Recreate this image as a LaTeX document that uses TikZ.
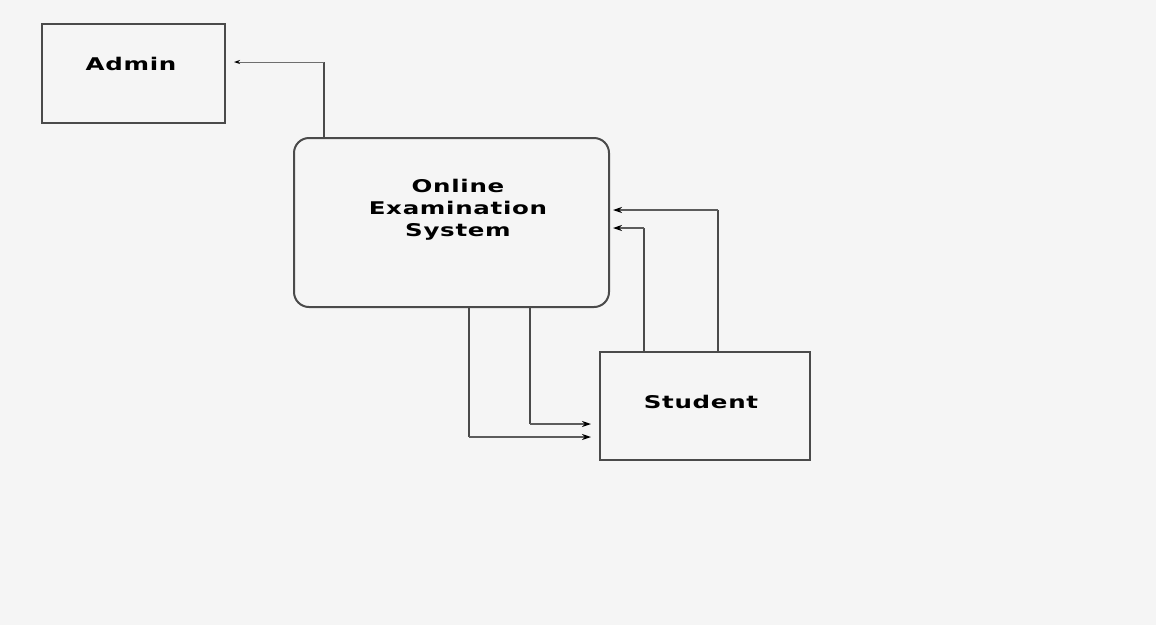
\documentclass[tikz,border=0pt]{standalone}
\usepackage{fontspec}
\setmainfont{DejaVu Sans}[FakeStretch=1.4,LetterSpace=4]
\usetikzlibrary{arrows.meta}
\definecolor{bgc}{HTML}{F5F5F5}
\definecolor{edgec}{HTML}{4A4A4A}
\begin{document}
\begin{tikzpicture}[x=1pt,y=-1pt,
  boxstyle/.style={draw=edgec,line width=2pt,fill=bgc,inner sep=0pt},
  labelstyle/.style={font=\fontsize{17.5}{22}\selectfont\bfseries,text=black,align=center,inner sep=0pt},
  vline/.style={draw=edgec,line width=2.4pt},
  hline/.style={draw=edgec!90,line width=1.5pt,-{Stealth[length=9pt,width=6pt,color=black]}},
  hthin/.style={draw=edgec!80,line width=1pt,-{Stealth[length=6pt,width=4pt,color=black]}}]
\fill[bgc] (0,0) rectangle (1156,625);
\useasboundingbox (0,0) rectangle (1156,625);
% boxes
\node[boxstyle,minimum width=183pt,minimum height=99pt] (admin) at (133.5,73.5) {};
\node[labelstyle] (admintext) at (131,64) {Admin};
\node[boxstyle,rounded corners=15pt,minimum width=315pt,minimum height=169pt] (main) at (451.5,222.5) {};
\node[labelstyle] (maintext) at (458,210) {Online\\Examination\\System};
\node[boxstyle,minimum width=210pt,minimum height=108pt] (student) at (705,406) {};
\node[labelstyle] (studenttext) at (701,402) {Student};
% main -> admin
\coordinate (c1) at (324,62);
\draw[vline] (c1 |- main.north) -- (c1);
\draw[hthin,shorten >=8pt] (c1) -- (c1 -| admin.east);
% student -> main
\coordinate (c2) at (718,210);
\coordinate (c3) at (644,228);
\draw[vline] (c2 |- student.north) -- (c2);
\draw[hline,shorten >=3pt] (c2) -- (c2 -| main.east);
\draw[vline] (c3 |- student.north) -- (c3);
\draw[hline,shorten >=3pt] (c3) -- (c3 -| main.east);
% main -> student
\coordinate (c4) at (469,437);
\coordinate (c5) at (530,424);
\draw[vline] (c4 |- main.south) -- (c4);
\draw[hline,shorten >=8pt] (c4) -- (c4 -| student.west);
\draw[vline] (c5 |- main.south) -- (c5);
\draw[hline,shorten >=8pt] (c5) -- (c5 -| student.west);
\end{tikzpicture}
\end{document}
